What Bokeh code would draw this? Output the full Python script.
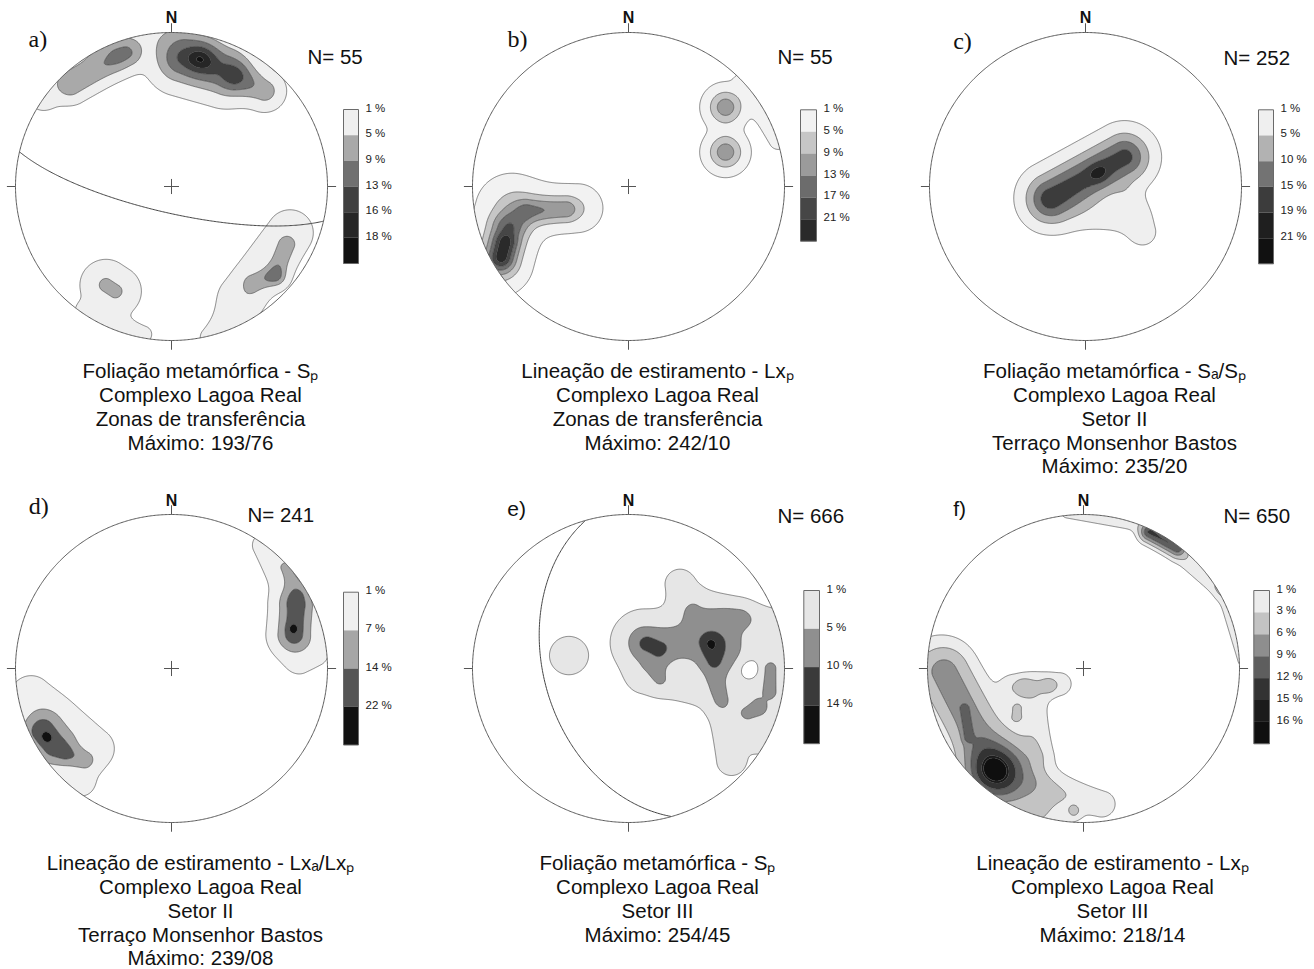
import numpy as np
from bokeh.plotting import figure
from bokeh.layouts import row, column
from bokeh.models import Range1d
from bokeh.embed import file_html
from bokeh.resources import INLINE
from bokeh.core.properties import value

# ---------------------------------------------------------------- data
LETTERS = ["a)", "b)", "c)", "d)", "e)", "f)"]
N_COUNTS = [55, 55, 252, 241, 666, 650]

CAPTION_A = ["Foliação metamórfica - Sₚ", "Complexo Lagoa Real", "Zonas de transferência", "Máximo: 193/76"]
CAPTION_B = ["Lineação de estiramento - Lxₚ", "Complexo Lagoa Real", "Zonas de transferência", "Máximo: 242/10"]
CAPTION_C = ["Foliação metamórfica - Sₐ/Sₚ", "Complexo Lagoa Real", "Setor II", "Terraço Monsenhor Bastos", "Máximo: 235/20"]
CAPTION_D = ["Lineação de estiramento - Lxₐ/Lxₚ", "Complexo Lagoa Real", "Setor II", "Terraço Monsenhor Bastos", "Máximo: 239/08"]
CAPTION_E = ["Foliação metamórfica - Sₚ", "Complexo Lagoa Real", "Setor III", "Máximo: 254/45"]
CAPTION_F = ["Lineação de estiramento - Lxₚ", "Complexo Lagoa Real", "Setor III", "Máximo: 218/14"]

# contour levels (%) shown in each colour bar
LEVELS_A = [1, 5, 9, 13, 16, 18]
LEVELS_B = [1, 5, 9, 13, 17, 21]
LEVELS_C = [1, 5, 10, 15, 19, 21]
LEVELS_D = [1, 7, 14, 22]
LEVELS_E = [1, 5, 10, 14]
LEVELS_F = [1, 3, 6, 9, 12, 15, 16]

COLORS_A = ["#efefef", "#a9a9a9", "#707070", "#404040", "#262626", "#121212"]
COLORS_B = ["#f2f2f2", "#c6c6c6", "#9b9b9b", "#6c6c6c", "#464646", "#2a2a2a"]
COLORS_C = ["#efefef", "#b2b2b2", "#737373", "#3c3c3c", "#1f1f1f", "#111111"]
COLORS_D = ["#f0f0f0", "#a6a6a6", "#555555", "#111111"]
COLORS_E = ["#e6e6e6", "#8f8f8f", "#3a3a3a", "#111111"]
COLORS_F = ["#ececec", "#c3c3c3", "#8e8e8e", "#5e5e5e", "#333333", "#1b1b1b", "#0f0f0f"]

# density clusters read off each net (equal-area, lower hemisphere, unit radius):
# (u1, v1, u2, v2, peak %, spread) -- a cluster stretched between two points
COMP_A = [
    (0.06, 0.83, 0.34, 0.75, 12.0, 0.11),
    (0.19, 0.85, 0.19, 0.85, 7.0, 0.08),
    (0.44, 0.70, 0.60, 0.62, 7.0, 0.07),
    (-0.64, 0.66, -0.28, 0.86, 7.0, 0.065),
    (-0.33, 0.85, -0.33, 0.85, 2.0, 0.07),
    (-0.82, 0.60, -0.45, 0.92, 2.4, 0.08),
    (-0.45, 0.92, 0.05, 1.02, 2.4, 0.08),
    (-0.42, -0.64, -0.36, -0.68, 5.6, 0.09),
    (-0.56, -0.81, -0.18, -0.96, 2.0, 0.045),
    (0.52, -0.63, 0.66, -0.58, 5.5, 0.045),
    (0.67, -0.57, 0.74, -0.38, 5.5, 0.045),
    (0.45, -0.72, 0.76, -0.30, 2.5, 0.11),
    (0.45, -0.75, 0.25, -0.98, 1.8, 0.06),
]
COMP_B = [
    (-0.81, -0.45, -0.79, -0.37, 8.0, 0.05),
    (-0.82, -0.47, -0.77, -0.28, 12.0, 0.08),
    (-0.64, -0.16, -0.40, -0.15, 7.5, 0.055),
    (-0.85, -0.50, -0.76, -0.14, 4.0, 0.13),
    (-0.70, -0.15, -0.32, -0.14, 4.5, 0.09),
    (0.622, 0.515, 0.622, 0.515, 11.5, 0.075),
    (0.622, 0.223, 0.622, 0.223, 11.5, 0.075),
    (0.74, 0.68, 0.96, 0.30, 3.0, 0.04),
]
COMP_C = [
    (-0.22, -0.07, 0.25, 0.19, 17.0, 0.10),
    (0.085, 0.082, 0.085, 0.082, 4.0, 0.045),
    (-0.25, -0.14, 0.28, -0.20, 2.0, 0.08),
    (0.27, -0.05, 0.37, -0.30, 2.2, 0.06),
]
COMP_D = [
    (0.785, 0.22, 0.80, 0.40, 18.0, 0.075),
    (0.78, 0.258, 0.78, 0.258, 8.0, 0.025),
    (0.81, 0.50, 0.74, 0.66, 7.0, 0.045),
    (0.74, 0.50, 0.60, 0.80, 2.5, 0.06),
    (0.82, 0.05, 0.92, 0.10, 2.0, 0.07),
    (-0.83, -0.41, -0.76, -0.50, 18.0, 0.085),
    (-0.80, -0.446, -0.80, -0.446, 8.0, 0.025),
    (-0.66, -0.56, -0.55, -0.60, 7.0, 0.045),
    (-0.90, -0.18, -0.50, -0.52, 3.0, 0.09),
    (-0.62, -0.60, -0.58, -0.74, 2.2, 0.07),
]
COMP_E = [
    (-0.382, 0.084, -0.382, 0.084, 3.0, 0.084),
    (0.12, 0.16, 0.20, 0.12, 5.0, 0.05),
    (0.17, 0.02, 0.20, -0.08, 2.5, 0.05),
    (0.53, 0.16, 0.545, 0.04, 6.0, 0.055),
    (0.56, -0.08, 0.59, -0.20, 2.5, 0.05),
    (0.526, 0.16, 0.526, 0.16, 2.0, 0.015),
    (0.10, 0.17, 0.60, 0.17, 7.0, 0.11),
    (0.45, 0.30, 0.72, 0.33, 3.0, 0.06),
    (0.10, -0.05, 0.55, -0.15, 2.5, 0.08),
    (0.33, 0.55, 0.36, 0.40, 2.5, 0.07),
    (0.45, 0.42, 0.88, 0.30, 2.6, 0.07),
    (0.95, 0.20, 0.85, -0.45, 2.6, 0.07),
    (0.62, 0.05, 0.80, -0.25, 2.2, 0.12),
    (0.91, 0.00, 0.91, -0.15, 4.5, 0.03),
    (0.76, -0.29, 0.83, -0.245, 4.5, 0.03),
    (0.62, -0.30, 0.66, -0.60, 2.5, 0.07),
    (0.771, -0.009, 0.771, -0.009, -3.5, 0.045),
]
COMP_F = [
    (-0.555, -0.68, -0.555, -0.68, 12.5, 0.125),
    (-0.88, -0.02, -0.62, -0.62, 4.5, 0.10),
    (-0.76, -0.26, -0.74, -0.45, 4.0, 0.022),
    (-0.93, -0.02, -0.30, -0.92, 3.2, 0.14),
    (-0.45, -0.12, -0.15, -0.10, 2.0, 0.06),
    (-0.33, -0.15, -0.30, -0.55, 2.0, 0.07),
    (-0.39, -0.12, -0.39, -0.12, 2.5, 0.035),
    (-0.22, -0.11, -0.22, -0.11, 2.5, 0.035),
    (-0.43, -0.26, -0.43, -0.31, 2.5, 0.03),
    (-0.30, -0.75, 0.12, -0.88, 2.0, 0.07),
    (-0.06, -0.93, -0.06, -0.93, 2.5, 0.03),
    (0.42, 0.88, 0.60, 0.79, 9.5, 0.04),
    (-0.10, 1.02, 0.45, 0.92, 1.8, 0.04),
    (0.45, 0.90, 0.88, 0.52, 2.5, 0.045),
    (0.88, 0.52, 1.02, 0.05, 1.6, 0.03),
]

# maximum planes drawn as great circles (dip direction, dip)
PLANE_A = (193, 76)
PLANE_E = (254, 45)

# ---------------------------------------------------------------- helpers
SX, SY = 156.0, 154.0          # pixels per net radius (x, y)
SANS = "Liberation Sans"
SERIF = "Liberation Serif"
GRID = np.linspace(-1.2, 1.2, 481)


def density(comps):
    X, Y = np.meshgrid(GRID, GRID)
    Z = np.zeros_like(X)
    for (u1, v1, u2, v2, amp, s) in comps:
        dx, dy = u2 - u1, v2 - v1
        L2 = dx * dx + dy * dy
        if L2 == 0:
            t = 0.0
        else:
            t = np.clip(((X - u1) * dx + (Y - v1) * dy) / L2, 0, 1)
        d2 = (X - (u1 + t * dx)) ** 2 + (Y - (v1 + t * dy)) ** 2
        Z += amp * np.exp(-d2 / (2 * s * s))
    Z[np.hypot(X, Y) > 1.05] = 0.0     # nothing outside the net
    return Z


def great_circle(dd, dip):
    ddr, dpr = np.radians(dd), np.radians(dip)
    s = ddr - np.pi / 2
    strike = np.array([np.sin(s), np.cos(s), 0.0])
    dipv = np.array([np.cos(dpr) * np.sin(ddr), np.cos(dpr) * np.cos(ddr), np.sin(dpr)])
    beta = np.linspace(0, np.pi, 241)
    vec = np.cos(beta)[:, None] * strike + np.sin(beta)[:, None] * dipv
    e, n, d = vec.T
    plunge = np.arcsin(np.clip(d, -1, 1))
    trend = np.arctan2(e, n)
    r = np.sqrt(2) * np.sin((np.pi / 2 - plunge) / 2)
    return r * np.sin(trend), r * np.cos(trend)


def label(p, x, y, txt, font, size, align="left", style="normal", color="#111111"):
    p.text(x=x, y=y, text=txt, text_align=align, text_baseline="middle",
           text_font=value(font), text_font_style=style, text_font_size=value(size),
           text_color=color)


def panel(W, H, cx, cy, letter, letter_font, letter_size, letter_px, n_y, n_count, n_px,
          levels, colors, comps, bar_px, bin_px, caption, cap_mid, plane=None):
    U = lambda x: (x - cx) / SX
    V = lambda y: (cy - y) / SY
    p = figure(width=W, height=H, x_range=Range1d(U(0), U(W)), y_range=Range1d(V(H), V(0)),
               output_backend="svg", toolbar_location=None, title=None,
               x_axis_location=None, y_axis_location=None, min_border=0,
               outline_line_color=None, background_fill_color="white",
               border_fill_color="white")
    p.xgrid.visible = False
    p.ygrid.visible = False
    # centre cross (lies beneath the density fill)
    p.segment(x0=[-0.048, 0], y0=[0, -0.049], x1=[0.048, 0], y1=[0, 0.049],
              line_color="#555555", line_width=1)
    Z = density(comps)
    p.contour(GRID, GRID, Z, levels=list(levels) + [1000], fill_color=colors,
              line_color="#3c3c3c", line_width=0.6)
    if plane is not None:
        gx, gy = great_circle(*plane)
        p.line(gx, gy, line_color="#444444", line_width=1)
    th = np.linspace(0, 2 * np.pi, 721)
    ccx, ccy = np.cos(th), np.sin(th)
    x0, x1, y0, y1 = U(0) - 1, U(W) + 1, V(H) - 1, V(0) + 1
    p.multi_polygons(xs=[[[[x0, x1, x1, x0], list(ccx)]]],
                     ys=[[[[y0, y0, y1, y1], list(ccy)]]],
                     fill_color="white", line_color=None)
    p.line(ccx, ccy, line_color="#5a5a5a", line_width=1)
    # cardinal ticks
    p.segment(x0=[0, 0, 1.0, -1.0], y0=[1.0, -1.0, 0, 0],
              x1=[0, 0, 1.055, -1.055], y1=[1.06, -1.06, 0, 0],
              line_color="#555555", line_width=1)
    label(p, [0], [V(n_y)], ["N"], SANS, "16px", align="center", style="bold")
    label(p, [U(letter_px[0])], [V(letter_px[1])], [letter], letter_font, letter_size)
    label(p, [U(n_px[0])], [V(n_px[1])], ["N= %d" % n_count], SANS, "20.5px")
    # colour bar
    nb = len(colors)
    tops = [V(bar_px[2] + i * bin_px) for i in range(nb)]
    bots = [V(bar_px[2] + (i + 1) * bin_px) for i in range(nb)]
    p.quad(left=U(bar_px[0]), right=U(bar_px[1]), top=tops, bottom=bots,
           fill_color=colors, line_color=None)
    p.quad(left=[U(bar_px[0])], right=[U(bar_px[1])], top=[tops[0]], bottom=[bots[-1]],
           fill_color=None, line_color="#6a6a6a", line_width=1)
    label(p, [U(bar_px[1] + 7)] * nb, [V(bar_px[2] + i * bin_px - 2) for i in range(nb)],
          ["%d %%" % l for l in levels], SANS, "11.5px", color="#222222")
    # caption
    label(p, [U(cx + 29)] * len(caption), [V(b) for b in cap_mid[:len(caption)]],
          caption, SANS, "20.5px", align="center")
    return p


CAP_TOP = [370, 394.3, 418, 441.6, 465.2]
CAP_BOT = [380, 404.3, 428, 451.6, 474.8]

pa = panel(457, 482, 171, 186, LETTERS[0], SERIF, "24px", (28, 38.3), 17.3, N_COUNTS[0], (307, 55.7),
           LEVELS_A, COLORS_A, COMP_A, (343, 358, 109), 25.67, CAPTION_A, CAP_TOP, PLANE_A)
pb = panel(457, 482, 171, 186, LETTERS[1], SERIF, "24px", (50, 38.3), 17.3, N_COUNTS[1], (320, 55.7),
           LEVELS_B, COLORS_B, COMP_B, (343, 359, 109.3), 21.9, CAPTION_B, CAP_TOP)
pc = panel(400, 482, 171, 186, LETTERS[2], SERIF, "24px", (38.7, 40), 17.3, N_COUNTS[2], (309, 57),
           LEVELS_C, COLORS_C, COMP_C, (344, 359, 109.3), 25.67, CAPTION_C, CAP_TOP)
pd = panel(457, 487, 171, 186, LETTERS[3], SERIF, "24px", (28.3, 23.7), 18, N_COUNTS[3], (247, 32),
           LEVELS_D, COLORS_D, COMP_D, (343, 358, 109.7), 38.2, CAPTION_D, CAP_BOT)
pe = panel(457, 487, 171, 186, LETTERS[4], SANS, "21px", (49.7, 26.3), 18, N_COUNTS[4], (320, 33),
           LEVELS_E, COLORS_E, COMP_E, (346.3, 362, 108), 38.3, CAPTION_E, CAP_BOT, PLANE_E)
pf = panel(400, 487, 169, 186, LETTERS[5], SANS, "21px", (38.7, 26.3), 18, N_COUNTS[5], (309, 33),
           LEVELS_F, COLORS_F, COMP_F, (339.3, 355, 108), 21.9, CAPTION_F, CAP_BOT)

layout = column(row(pa, pb, pc), row(pd, pe, pf))
open("out.html", "w").write(file_html(layout, INLINE))
